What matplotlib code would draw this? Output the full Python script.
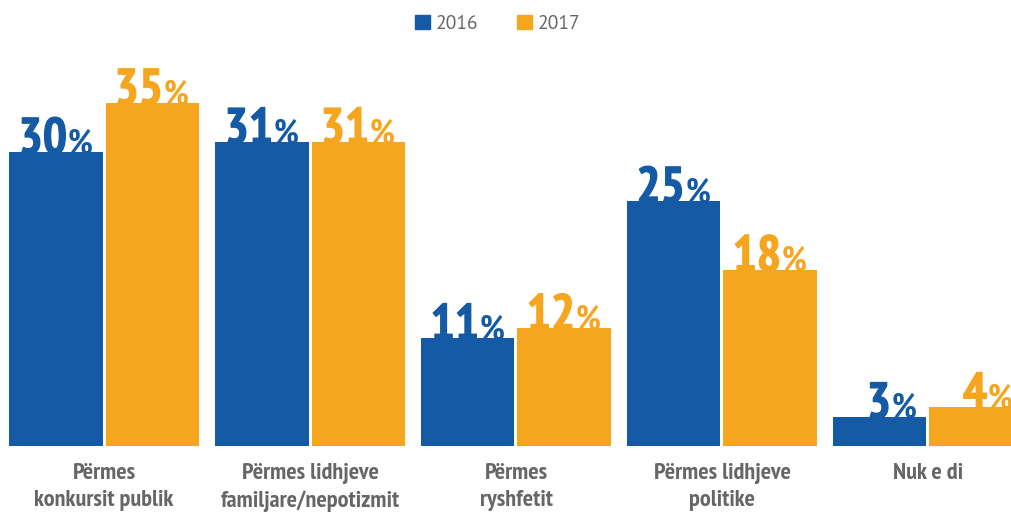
import matplotlib
matplotlib.use("Agg")
import matplotlib.pyplot as plt
from matplotlib.patches import Patch
import matplotlib.patheffects as pe
import numpy as np

categories = ["Përmes\nkonkursit publik", "Përmes lidhjeve\nfamiljare/nepotizmit",
              "Përmes\nryshfetit", "Përmes lidhjeve\npolitike", "Nuk e di"]
years = ["2016", "2017"]
v2016 = [30, 31, 11, 25, 3]
v2017 = [35, 31, 12, 18, 4]

BLUE = "#155AA5"
ORANGE = "#F6A61E"
GRAY = "#666666"
COND = "PT Sans Narrow"

fig = plt.figure(figsize=(10.12, 5.15), dpi=100)
# plot area: baseline at 446 px from top, full width
ax = fig.add_axes([0, (515 - 446) / 515, 1, 446 / 515])

x = np.arange(len(categories))
w = 0.452
off = w / 2 + 0.0073
ax.bar(x - off, v2016, w, color=BLUE)
ax.bar(x + off, v2017, w, color=ORANGE)
ax.set_xlim(-0.505, 4.408)
ax.set_ylim(0, 45.5)
ax.axis("off")


def label(xc, v, color):
    # big number + smaller percent sign, sharing a baseline on the bar top
    thick = [pe.withStroke(linewidth=0.9, foreground=color)]
    ax.annotate(f"{v}", (xc, v), xytext=(8, -1), textcoords="offset points",
                ha="right", va="baseline", fontsize=36.5, fontweight="bold",
                family=COND, color=color, path_effects=thick)
    ax.annotate("%", (xc, v), xytext=(8.5, -1), textcoords="offset points",
                ha="left", va="baseline", fontsize=25, fontweight="bold",
                family=COND, color=color)


for i in range(len(categories)):
    label(x[i] - off, v2016[i], BLUE)
    label(x[i] + off, v2017[i], ORANGE)

for i, c in enumerate(categories):
    ax.text(x[i], -1.75, c, ha="center", va="top", fontsize=17.5, fontweight="bold",
            family=COND, color=GRAY, linespacing=1.36)

handles = [Patch(color=BLUE, label=years[0]), Patch(color=ORANGE, label=years[1])]
leg = fig.legend(handles=handles, loc="upper center", bbox_to_anchor=(0.492, 1.005), ncol=2,
                 frameon=False, prop={"family": "PT Sans", "size": 14},
                 handlelength=0.75, handleheight=0.75, columnspacing=2.0,
                 handletextpad=0.3)
for t in leg.get_texts():
    t.set_color(GRAY)

fig.savefig("out.png", dpi=100, facecolor="white")
